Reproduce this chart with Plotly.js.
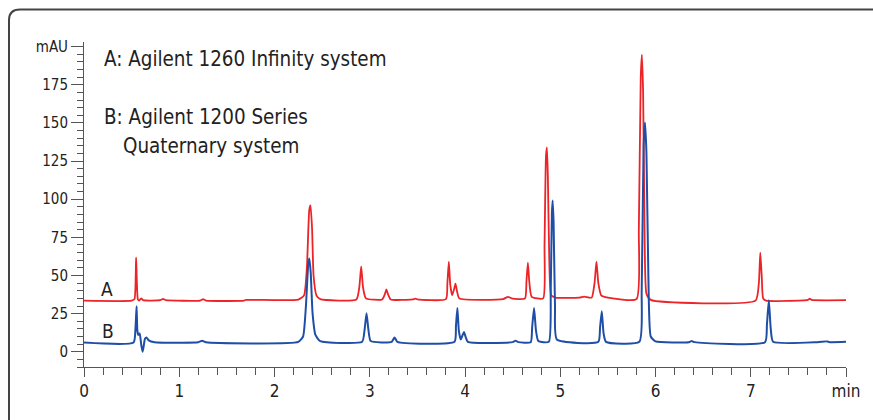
<!DOCTYPE html>
<html>
<head>
<meta charset="utf-8">
<script src="https://cdn.plot.ly/plotly-3.0.1.min.js"></script>
<style>
html,body{margin:0;padding:0;background:#fff;}
#chart{width:873px;height:420px;}
</style>
</head>
<body>
<div id="chart"></div>
<script>
// Trace A: Agilent 1260 Infinity system (red), time in min, signal in mAU
const timeA = [0.00,0.50,0.53,0.547,0.565,0.58,0.60,0.62,0.80,0.83,0.86,1.22,1.25,1.28,1.68,1.70,2.25,2.31,2.34,2.365,2.378,2.395,2.41,2.44,2.48,2.86,2.89,2.91,2.93,2.96,3.13,3.16,3.175,3.19,3.22,3.45,3.48,3.50,3.80,3.815,3.83,3.845,3.865,3.885,3.90,3.915,3.94,4.40,4.45,4.50,4.63,4.645,4.66,4.675,4.70,4.82,4.835,4.85,4.86,4.87,4.885,4.905,4.95,5.20,5.25,5.33,5.36,5.38,5.40,5.43,5.50,5.80,5.825,5.845,5.857,5.87,5.885,5.905,5.95,7.05,7.085,7.10,7.115,7.13,7.16,7.60,7.62,7.64,8.00];
const signalA = [33.5,33.5,34.5,61.8,34.5,33.5,35.0,33.8,33.8,34.6,33.8,33.6,34.5,33.6,33.5,34.0,34.2,37,55,93,96,80,50,37,34.5,34.3,42,56,42,35,34.3,38,40.8,38,34.3,34.3,34.8,34.3,34.5,45,59,44,37,41,44.7,40,35,34.5,36,34.8,35,46,58.5,46,36,35,70,128,134,115,60,37,35.5,35.5,36.2,35.5,45,59,45,37,35.5,34.5,80,180,194.7,170,80,38,34,33.5,45,65,50,35,33.5,34,34.8,34,33.8];

// Trace B: Agilent 1200 Series Quaternary system (blue)
const timeB = [0.00,0.52,0.54,0.552,0.56,0.57,0.585,0.60,0.615,0.625,0.64,0.655,0.68,0.74,1.20,1.24,1.28,2.25,2.30,2.33,2.355,2.366,2.38,2.40,2.43,2.48,2.92,2.945,2.966,2.985,3.01,3.23,3.26,3.29,3.89,3.905,3.92,3.935,3.955,3.975,3.99,4.005,4.03,4.50,4.53,4.56,4.69,4.705,4.725,4.745,4.77,4.88,4.90,4.912,4.92,4.93,4.945,4.965,5.40,5.418,5.436,5.455,5.48,5.83,5.855,5.875,5.89,5.905,5.925,5.95,6.00,6.35,6.38,6.41,7.15,7.17,7.19,7.21,7.235,7.70,7.80,7.83,8.00];
const signalB = [6.0,6.0,15,29.8,14,11,12,5,0.0,3,8.5,9.4,7.5,6.3,6.2,7.2,6.2,6.5,10,30,58,61.2,52,25,11,7,6.5,14,25.2,15,7,6.5,9.4,6.5,6.5,17,28.7,14,8,11,12.9,10,6.5,6.3,7.2,6.3,6.3,16,28.7,14,7,6.5,40,90,99.1,85,30,8,6.5,16,26.5,12,6.5,6.5,40,135,150.3,130,50,10,6.8,6.3,7.0,6.3,6.2,18,33.8,15,6.5,6.3,6.8,6.3,6.5];

const xTickVals = [0,1,2,3,4,5,6,7,8];
const xTickText = ["0","1","2","3","4","5","6","7","min"];
const yTickVals = [0,25,50,75,100,125,150,175,200];
const yTickText = ["0","25","50","75","100","125","150","175","mAU"];

const legendLines = ["A: Agilent 1260 Infinity system","B: Agilent 1200 Series","Quaternary system"];
const traceLabels = ["A","B"];

const FONT = "'Liberation Sans Narrow','DejaVu Sans Condensed','Roboto Condensed',Roboto,Arial,sans-serif";
const RED = "#ec2327";
const BLUE = "#1f4ea6";
const AXC = "#555555";

const traces = [
  {x: timeA, y: signalA, type: "scatter", mode: "lines", line: {color: RED, width: 1.8, shape: "spline", smoothing: 0.5}, hoverinfo: "skip"},
  {x: timeB, y: signalB, type: "scatter", mode: "lines", line: {color: BLUE, width: 2, shape: "spline", smoothing: 0.5}, hoverinfo: "skip"}
];

const l = 84, r = 27, t = 42, b = 53;
const pw = 873 - l - r, ph = 420 - t - b;
function px2x(p){ return (p - l) / pw; }
function py2y(p){ return (420 - b - p) / ph; }

const frame = {
  type: "path", xref: "paper", yref: "paper",
  path: "M " + px2x(9) + "," + py2y(440) + " L " + px2x(9) + "," + py2y(20) +
        " Q " + px2x(9) + "," + py2y(9.5) + " " + px2x(20) + "," + py2y(9.5) +
        " L " + px2x(890) + "," + py2y(9.5),
  line: {color: "#444", width: 2}
};

const annotations = [
  {x: 0.19, y: 192, text: legendLines[0], xanchor: "left", yanchor: "middle", showarrow: false, font: {size: 20.4, color: "#222", family: FONT}},
  {x: 0.19, y: 154, text: legendLines[1], xanchor: "left", yanchor: "middle", showarrow: false, font: {size: 20.4, color: "#222", family: FONT}},
  {x: 0.39, y: 135, text: legendLines[2], xanchor: "left", yanchor: "middle", showarrow: false, font: {size: 20.4, color: "#222", family: FONT}},
  {x: 0.24, y: 41, text: traceLabels[0], xanchor: "center", yanchor: "middle", showarrow: false, font: {size: 19, color: "#222", family: FONT}},
  {x: 0.25, y: 13.5, text: traceLabels[1], xanchor: "center", yanchor: "middle", showarrow: false, font: {size: 19, color: "#222", family: FONT}}
];

const layout = {
  width: 873, height: 420,
  margin: {l: l, r: r, t: t, b: b, pad: 0},
  paper_bgcolor: "#fff", plot_bgcolor: "#fff",
  showlegend: false,
  font: {family: FONT, color: "#222"},
  xaxis: {
    range: [0, 8], showgrid: false, zeroline: false,
    showline: true, linecolor: AXC, linewidth: 1,
    tickmode: "array", tickvals: xTickVals, ticktext: xTickText,
    ticks: "outside", ticklen: 9, tickwidth: 1, tickcolor: AXC,
    minor: {dtick: 0.2, tick0: 0, ticks: "outside", ticklen: 7, tickwidth: 1, tickcolor: AXC, showgrid: false},
    tickfont: {size: 17, color: "#222", family: FONT},
    fixedrange: true
  },
  yaxis: {
    range: [-10, 203.1], showgrid: false, zeroline: false,
    showline: true, linecolor: AXC, linewidth: 1,
    tickmode: "array", tickvals: yTickVals, ticktext: yTickText,
    ticks: "outside", ticklen: 12, tickwidth: 1, tickcolor: AXC,
    minor: {dtick: 5, tick0: 0, ticks: "outside", ticklen: 6, tickwidth: 1, tickcolor: AXC, showgrid: false},
    tickfont: {size: 15, color: "#222", family: FONT},
    fixedrange: true
  },
  shapes: [frame],
  annotations: annotations
};

Plotly.newPlot("chart", traces, layout, {staticPlot: true, displayModeBar: false});
</script>
</body>
</html>
